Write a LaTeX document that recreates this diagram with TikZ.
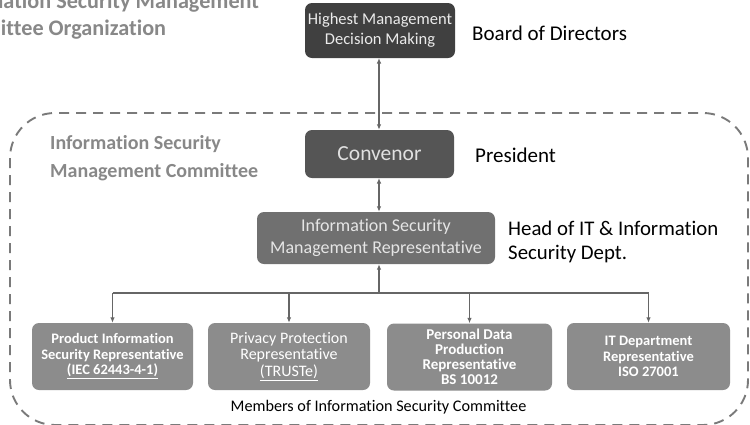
\documentclass[tikz,border=0pt]{standalone}
\usepackage{fontspec}
\setmainfont[Ligatures=NoCommon]{Carlito}
\usetikzlibrary{arrows.meta}
\definecolor{topc}{HTML}{404040}
\definecolor{convc}{HTML}{555555}
\definecolor{ismc}{HTML}{707070}
\definecolor{memc}{HTML}{8C8C8C}
\definecolor{labc}{HTML}{888888}
\definecolor{linec}{HTML}{666666}
\definecolor{dashc}{HTML}{7A7A7A}
\tikzset{
  box/.style={rounded corners=7pt, inner sep=0pt, align=center},
  topbox/.style={box, fill=topc, text=white!92!black, minimum width=150pt, minimum height=55pt, font=\fontsize{16.5}{20}\selectfont},
  convbox/.style={box, fill=convc, text=white!88!black, minimum width=149pt, minimum height=48pt, font=\fontsize{21.5}{24}\selectfont},
  ismbox/.style={box, fill=ismc, text=white!90!black, minimum width=238pt, minimum height=52pt, font=\fontsize{18}{22}\selectfont},
  membox/.style={box, fill=memc, text=white, minimum width=163pt, minimum height=67pt, font=\fontsize{14.5}{15.5}\selectfont\bfseries},
  side/.style={anchor=west, inner sep=0pt, align=left, text=black},
  conn/.style={draw=linec, line width=1.3pt},
  tip/.style={-{Latex[length=5.5pt,width=4.5pt]}},
  twotip/.style={{Latex[length=5.5pt,width=4.5pt]}-{Latex[length=5.5pt,width=4.5pt]}},
}
\begin{document}
\begin{tikzpicture}[x=1pt,y=-1pt]
\useasboundingbox (0,0) rectangle (750,424);
\clip (0,0) rectangle (750,424);
\fill[white] (0,0) rectangle (750,424);
% title (cropped at the picture's edge, as in the reference)
\node[anchor=west, inner sep=0pt, text=labc, font=\fontsize{22.2}{27}\selectfont\bfseries, align=left] (title) at (-59,16) {Information Security Management\\Committee Organization};
% dashed region
\draw[dashc, line width=1.9pt, dash pattern=on 10pt off 7pt, rounded corners=45pt] (10,113) rectangle (748,425);
\node[anchor=west, inner sep=0pt, text=labc, font=\fontsize{20}{28}\selectfont\bfseries, align=left] (ismclab) at (50,158) {Information Security\\Management Committee};
% boxes
\node[topbox] (top) at (380,30.5) {Highest Management\\Decision Making};
\node[side, font=\fontsize{21}{24}\selectfont] (bod) at (472,33) {Board of Directors};
\node[convbox] (conv) at (379.5,154) {Convenor};
\node[side, font=\fontsize{21}{24}\selectfont] (pres) at (475,155) {President};
\node[ismbox] (ism) at (376,238) {Information Security\\Management Representative};
\node[side, font=\fontsize{20.8}{23.5}\selectfont] (head) at (508,242) {Head of IT \& Information\\Security Dept.};
\node[membox, minimum width=161pt] (m1) at (112.5,356.5) {Product Information\\Security Representative\\\underline{(IEC 62443-4-1)}};
\node[membox, minimum width=162pt, font=\fontsize{16}{16.5}\selectfont] (m2) at (289,356.5) {Privacy Protection\\Representative\\\underline{(TRUSTe)}};
\node[membox, minimum width=165pt, font=\fontsize{15}{15}\selectfont\bfseries] (m3) at (469.5,357) {Personal Data\\Production\\Representative\\BS 10012};
\node[membox] (m4) at (648.5,356.5) {IT Department\\Representative\\ISO 27001};
\node[inner sep=0pt, font=\fontsize{16.2}{19}\selectfont] (memlab) at (378.5,407) {Members of Information Security Committee};
% connectors
\draw[conn, twotip] (379,58) coordinate (a1) -- (a1 |- conv.north);
\draw[conn, twotip] (379,178) coordinate (a2) -- (a2 |- ism.north);
\coordinate (bus) at (379,293);
\draw[conn, tip] (bus) -- (bus |- ism.south);
\draw[conn] (m1.north |- bus) -- (m4.north |- bus);
\draw[conn, tip] (m1.north |- bus) -- (m1.north);
\draw[conn, tip] (m2.north |- bus) -- (m2.north);
\draw[conn, tip] (m3.north |- bus) -- (m3.north);
\draw[conn, tip] (m4.north |- bus) -- (m4.north);
\end{tikzpicture}
\end{document}
